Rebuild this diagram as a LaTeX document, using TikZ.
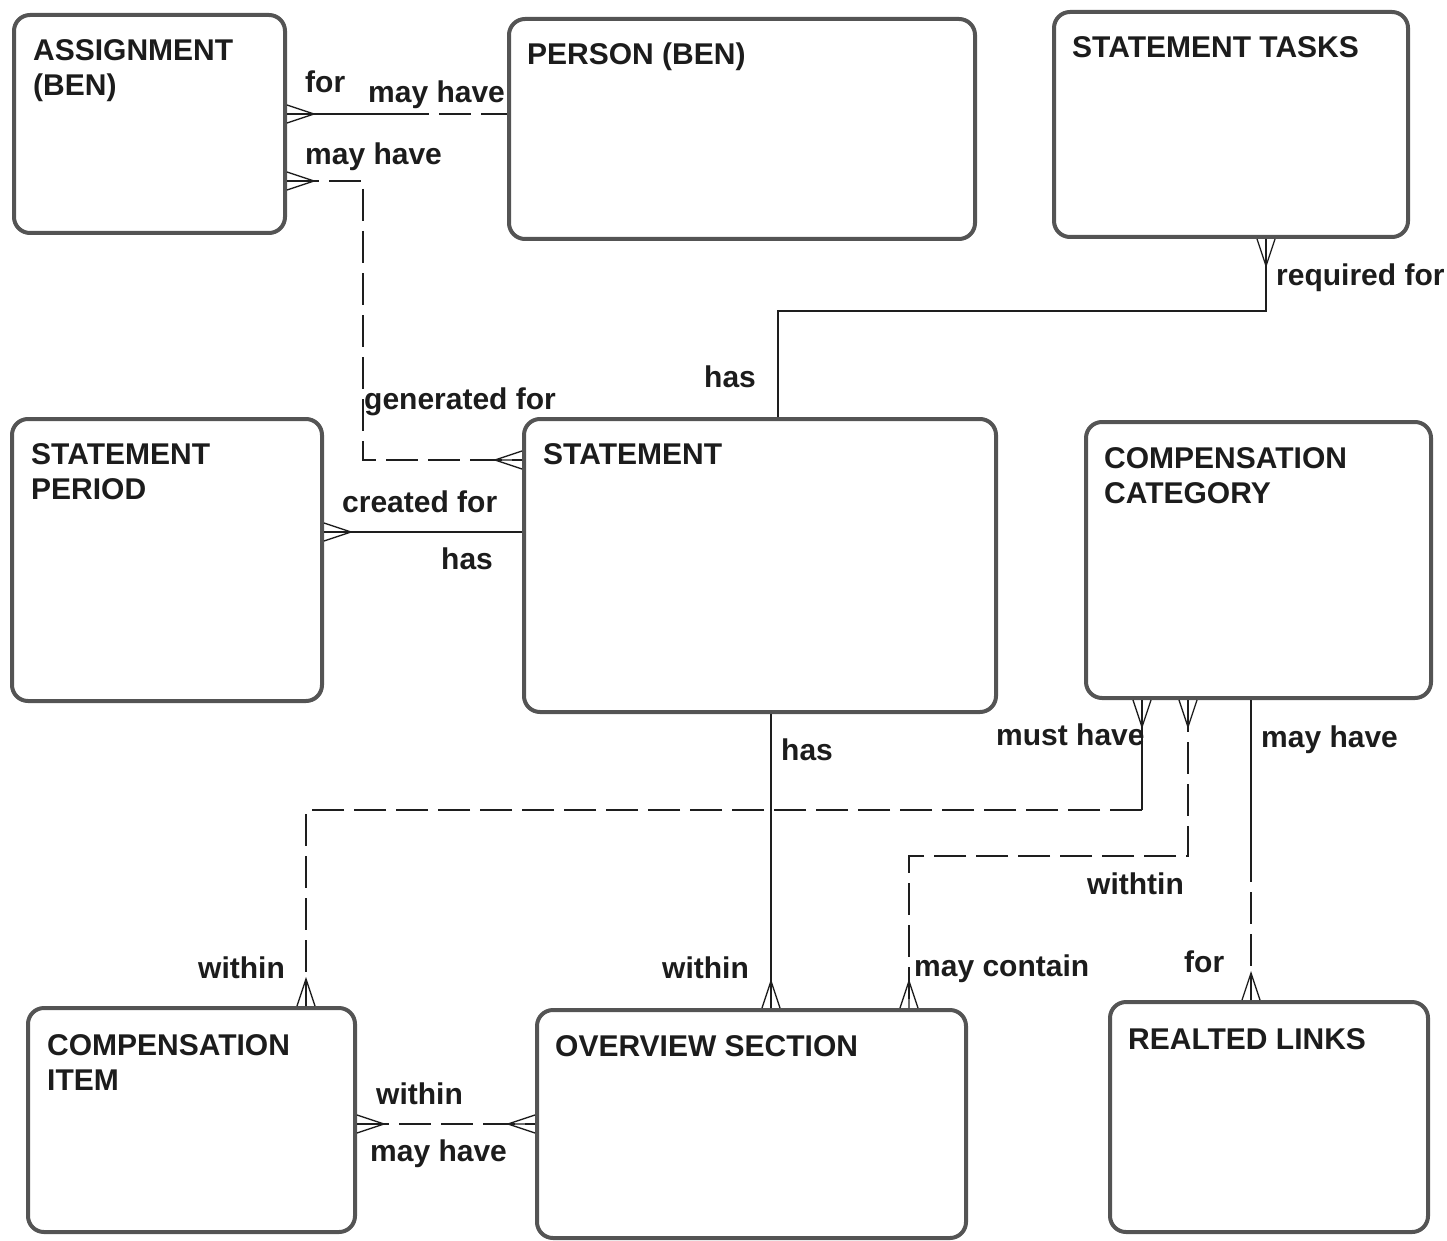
\documentclass[tikz,border=0pt]{standalone}
\usepackage{fontspec}
\usetikzlibrary{calc, positioning}
\newfontfamily\erfont{Liberation Sans}
\definecolor{boxline}{RGB}{84, 84, 84}
\definecolor{relline}{RGB}{30, 30, 30}
\definecolor{txt}{RGB}{28, 28, 28}

\begin{document}
\begin{tikzpicture}[
    x=1pt, y=-1pt,
    % entity style
    entity/.style={
        rectangle, rounded corners=16pt, draw=boxline, line width=4pt,
        anchor=north west, inner sep=0pt
    },
    % entity name style
    title/.style={
        anchor=north west, inner sep=0pt, align=left, text=txt,
        font=\erfont\bfseries\fontsize{30}{35}\selectfont
    },
    % relationship label style
    lbl/.style={
        anchor=base west, inner sep=0pt, text=txt,
        font=\erfont\bfseries\fontsize{30}{35}\selectfont
    },
    % relationship line styles
    rel/.style={relline, line width=1.3pt},
    opt/.style={dash pattern=on 32pt off 10pt},
    crow/.pic={\draw[rel] (0,0) -- (27,0) (0,-9) -- (27,0) -- (0,9);},
]
\useasboundingbox (0,0) rectangle (1447,1241);

% ==================== entities ====================
\node[entity, minimum width=271pt, minimum height=218pt] (assign) at (12,13) {};
\node[entity, minimum width=466pt, minimum height=220pt] (person) at (507,17) {};
\node[entity, minimum width=354pt, minimum height=225pt] (tasks) at (1052,10) {};
\node[entity, minimum width=310pt, minimum height=282pt] (period) at (10,417) {};
\node[entity, minimum width=472pt, minimum height=293pt] (statement) at (522,417) {};
\node[entity, minimum width=345pt, minimum height=276pt] (category) at (1084,420) {};
\node[entity, minimum width=327pt, minimum height=224pt] (item) at (26,1006) {};
\node[entity, minimum width=429pt, minimum height=228pt] (overview) at (535,1008) {};
\node[entity, minimum width=318pt, minimum height=230pt] (links) at (1108,1000) {};

% entity names
\node[title] (assignT) at ([xshift=21pt, yshift=-26pt]assign.north west) {ASSIGNMENT\\(BEN)};
\node[title] (personT) at ([xshift=20pt, yshift=-26pt]person.north west) {PERSON (BEN)};
\node[title] (tasksT) at ([xshift=20pt, yshift=-26pt]tasks.north west) {STATEMENT TASKS};
\node[title] (periodT) at ([xshift=21pt, yshift=-26pt]period.north west) {STATEMENT\\PERIOD};
\node[title] (statementT) at ([xshift=21pt, yshift=-26pt]statement.north west) {STATEMENT};
\node[title] (categoryT) at ([xshift=20pt, yshift=-27pt]category.north west) {COMPENSATION\\CATEGORY};
\node[title] (itemT) at ([xshift=21pt, yshift=-28pt]item.north west) {COMPENSATION\\ITEM};
\node[title] (overviewT) at ([xshift=20pt, yshift=-27pt]overview.north west) {OVERVIEW SECTION};
\node[title] (linksT) at ([xshift=20pt, yshift=-28pt]links.north west) {REALTED LINKS};

% ==================== relationships ====================
% assignment - person
\coordinate (ap1) at (assign.east |- 0,114);
\coordinate (ap2) at (person.west |- 0,114);
\coordinate (apm) at ($(ap1)!0.5!(ap2)$);
\draw[rel] (ap1) -- (apm);
\draw[rel, opt] (apm) -- (ap2);
\pic at (ap1) {crow};

% assignment - statement
\coordinate (as1) at (assign.east |- 0,181);
\coordinate (as2) at (statement.west |- 0,460);
\draw[rel, opt] (as1) -- ++(76,0) |- (as2);
\pic at (as1) {crow};
\pic[rotate=180] at (as2) {crow};

% period - statement
\coordinate (ps1) at (period.east |- 0,532);
\coordinate (ps2) at (statement.west |- 0,532);
\draw[rel] (ps1) -- (ps2);
\pic at (ps1) {crow};

% statement - tasks
\coordinate (st1) at (statement.north -| 778,0);
\coordinate (st2) at (tasks.south -| 1266,0);
\draw[rel] (st1) -- ++(0,-106) -| (st2);
\pic[rotate=-90] at (st2) {crow};

% statement - overview
\coordinate (so1) at (statement.south -| 771,0);
\coordinate (so2) at (overview.north -| 771,0);
\draw[rel] (so1) -- (so2);
\pic[rotate=90] at (so2) {crow};

% category - item
\coordinate (ci1) at (category.south -| 1142,0);
\coordinate (ci2) at (item.north -| 306,0);
\coordinate (cim) at ($(ci1)+(0,110)$);
\draw[rel] (ci1) -- (cim);
\draw[rel, opt] (cim) -| (ci2);
\pic[rotate=-90] at (ci1) {crow};
\pic[rotate=90] at (ci2) {crow};

% category - overview
\coordinate (co1) at (category.south -| 1188,0);
\coordinate (co2) at (overview.north -| 909,0);
\draw[rel, opt] (co1) -- ++(0,156) -| (co2);
\pic[rotate=-90] at (co1) {crow};
\pic[rotate=90] at (co2) {crow};

% category - links
\coordinate (cl1) at (category.south -| 1251,0);
\coordinate (cl2) at (links.north -| 1251,0);
\coordinate (clm) at ($(cl1)!0.5!(cl2)$);
\draw[rel] (cl1) -- (clm);
\draw[rel, opt] (clm) -- (cl2);
\pic[rotate=90] at (cl2) {crow};

% item - overview
\coordinate (io1) at (item.east |- 0,1124);
\coordinate (io2) at (overview.west |- 0,1124);
\draw[rel, opt] (io1) -- (io2);
\pic at (io1) {crow};
\pic[rotate=180] at (io2) {crow};

% ==================== labels ====================
\node[lbl] (apFor) at (305,93) {for};
\node[lbl] (apMay) at (368,103) {may have};
\node[lbl] (asMay) at (305,165) {may have};
\node[lbl] (asGen) at (364,409) {generated for};
\node[lbl] (psCreated) at (342,512) {created for};
\node[lbl] (psHas) at (441,569) {has};
\node[lbl] (stHas) at (704,387) {has};
\node[lbl] (stReq) at (1276,285) {required for};
\node[lbl] (soHas) at (781,760) {has};
\node[lbl] (soWithin) at (662,978) {within};
\node[lbl] (ciMust) at (996,745) {must have};
\node[lbl] (ciWithin) at (198,978) {within};
\node[lbl] (coWithtin) at (1087,894) {withtin};
\node[lbl] (coMay) at (914,976) {may contain};
\node[lbl] (clMay) at (1261,747) {may have};
\node[lbl] (clFor) at (1184,972) {for};
\node[lbl] (ioWithin) at (376,1104) {within};
\node[lbl] (ioMay) at (370,1161) {may have};

\end{tikzpicture}
\end{document}
